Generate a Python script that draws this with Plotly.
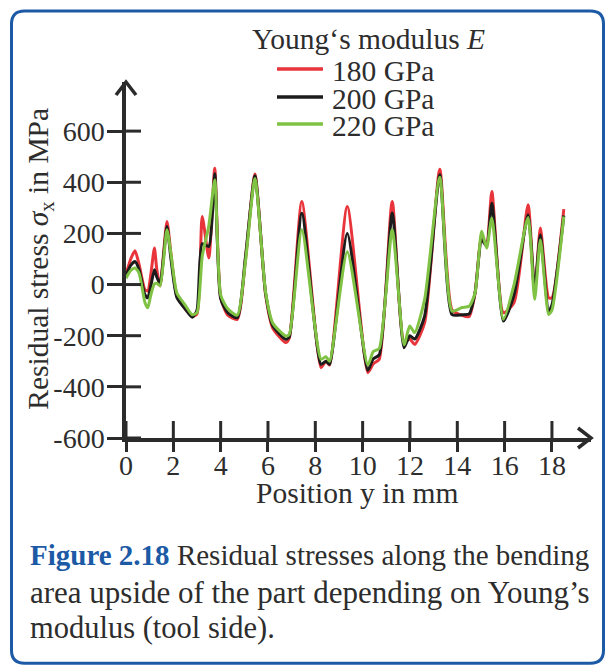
import plotly.graph_objects as go

# ---------------------------------------------------------------------------
# Residual stress along the bending area (upside of the part, tool side)
# ---------------------------------------------------------------------------
position_mm = [0.0, 0.2, 0.38, 0.55, 0.8, 0.92, 1.05, 1.2, 1.3, 1.44,
               1.73, 1.9, 2.15, 2.5, 2.8, 3.0, 3.22, 3.5, 3.75, 4.0,
               4.3, 4.7, 5.05, 5.45, 5.9, 6.2, 6.75, 6.9, 7.43, 8.24,
               8.45, 8.6, 9.35, 10.22, 10.45, 10.7, 11.25, 11.75, 11.99, 12.2,
               12.62, 13.26, 13.78, 14.2, 14.5, 14.75, 15.03, 15.24, 15.46, 15.95,
               16.4, 16.99, 17.27, 17.51, 17.86, 18.0, 18.5]

stress_180 = [40, 100, 132, 80, -20, -25, 40, 143, 60, -6,
              247, 120, -45, -95, -125, -115, 266, 104, 455, -50,
              -120, -136, 100, 432, -40, -170, -227, -210, 325, -325,
              -300, -315, 305, -344, -310, -292, 325, -225, -213, -234,
              -149, 451, -100, -120, -125, -33, 190, 150, 364, -110,
              -70, 312, -30, 221, -52, -52, 295]

stress_200 = [35, 75, 90, 60, -40, -52, -5, 58, 30, 3,
              227, 100, -50, -95, -128, -100, 160, 149, 433, -55,
              -110, -130, 110, 425, -35, -160, -214, -205, 279, -312,
              -300, -312, 200, -335, -290, -275, 280, -247, -200, -213,
              -123, 429, -118, -118, -115, -33, 175, 150, 318, -143,
              -40, 273, -16, 195, -104, -80, 270]

stress_220 = [25, 55, 65, 45, -70, -91, -40, 2, 5, -5,
              214, 120, -33, -80, -118, -110, 110, 230, 409, -40,
              -95, -120, 90, 415, -30, -150, -201, -195, 214, -292,
              -282, -300, 128, -315, -262, -250, 214, -235, -162, -188,
              -58, 420, -104, -90, -85, -33, 208, 143, 260, -136,
              0, 262, -58, 175, -117, -100, 266]

series_labels = ["180 GPa", "200 GPa", "220 GPa"]
series_colors = ["#e8343b", "#1c1c1c", "#80c244"]

x_tick_vals = [0, 2, 4, 6, 8, 10, 12, 14, 16, 18]
y_tick_vals = [-600, -400, -200, 0, 200, 400, 600]
y_tick_text = ["-600", "-400", "-200", "0", "200", "400", "600"]

# ---------------------------------------------------------------------------
W, H = 606, 666
ML, MR, MT, MB = 126, 15, 82, 227.5
PW, PH = W - ML - MR, H - MT - MB
X_MAX, Y_MIN, Y_MAX = 19.65, -600, 792

FONT = "Liberation Serif"
INK = "#2b2b2b"
TEXT = "#2d2d2d"
BLUE = "#1c5aa6"


def fx(px):
    """page pixel x -> paper x"""
    return (px - ML) / PW


def fy(py):
    """page pixel y (from top) -> paper y"""
    return (H - MB - py) / PH


fig = go.Figure()

for ys, name, col in zip([stress_180, stress_200, stress_220], series_labels, series_colors):
    fig.add_trace(go.Scatter(
        x=position_mm, y=ys, name=name, mode="lines",
        line=dict(color=col, width=3, shape="spline", smoothing=0.6),
        showlegend=False, hoverinfo="skip",
    ))

shapes = []
# inner halves of the crossing tick marks
for v in x_tick_vals:
    shapes.append(dict(type="line", xref="x", yref="y", ysizemode="pixel", yanchor=Y_MIN,
                       x0=v, x1=v, y0=0, y1=17, line=dict(color=INK, width=3)))
for v in y_tick_vals:
    shapes.append(dict(type="line", xref="x", yref="y", xsizemode="pixel", xanchor=0,
                       x0=0, x1=15, y0=v, y1=v, line=dict(color=INK, width=3)))
# arrow heads at the axis ends
shapes.append(dict(type="path", xref="paper", yref="paper", xsizemode="pixel", ysizemode="pixel",
                   xanchor=1, yanchor=0, path="M-13,10 L0,0 L-13,-10",
                   line=dict(color=INK, width=3.5)))
shapes.append(dict(type="path", xref="paper", yref="paper", xsizemode="pixel", ysizemode="pixel",
                   xanchor=0, yanchor=1, path="M-10,-13 L0,0 L10,-13",
                   line=dict(color=INK, width=3.5)))

# legend samples
legend_rows_y = [69, 97, 124]
for ly, col in zip(legend_rows_y, series_colors):
    shapes.append(dict(type="line", xref="paper", yref="paper",
                       x0=fx(277), x1=fx(323), y0=fy(ly), y1=fy(ly),
                       line=dict(color=col, width=3.5)))

# rounded frame around figure and caption
l, t, r, b, rad = 11.5, 11, 603.5, 664, 13
frame = (f"M{fx(l)},{fy(t + rad)} Q{fx(l)},{fy(t)} {fx(l + rad)},{fy(t)} "
         f"L{fx(r - rad)},{fy(t)} Q{fx(r)},{fy(t)} {fx(r)},{fy(t + rad)} "
         f"L{fx(r)},{fy(b - rad)} Q{fx(r)},{fy(b)} {fx(r - rad)},{fy(b)} "
         f"L{fx(l + rad)},{fy(b)} Q{fx(l)},{fy(b)} {fx(l)},{fy(b - rad)} Z")
shapes.append(dict(type="path", xref="paper", yref="paper", path=frame,
                   line=dict(color=BLUE, width=3), layer="below"))

annotations = []
annotations.append(dict(text="Young‘s modulus <i>E</i>", xref="paper", yref="paper",
                        x=fx(368), y=fy(39), xanchor="center", yanchor="middle", showarrow=False,
                        font=dict(family=FONT, size=29.5, color=TEXT)))
for ly, name in zip(legend_rows_y, series_labels):
    annotations.append(dict(text=name, xref="paper", yref="paper",
                            x=fx(330), y=fy(ly + 2), xanchor="left", yanchor="middle", showarrow=False,
                            font=dict(family=FONT, size=29.5, color=TEXT)))

annotations.append(dict(text="Position y in mm", xref="paper", yref="paper",
                        x=fx(357), y=fy(494), xanchor="center", yanchor="middle", showarrow=False,
                        font=dict(family=FONT, size=29.5, color=TEXT)))
annotations.append(dict(text="Residual stress <i>σ</i><sub>x</sub> in MPa", xref="paper", yref="paper",
                        x=fx(40), y=fy(259), xanchor="center", yanchor="middle", showarrow=False,
                        textangle=-90, font=dict(family=FONT, size=29.5, color=TEXT)))

caption = [
    (f"<b><span style='color:{BLUE}'>Figure 2.18</span></b> Residual stresses along the bending", 29),
    ("area upside of the part depending on Young’s", 31),
    ("modulus (tool side).", 30.5),
]
for cy, (line, fs) in zip([556, 593, 629], caption):
    annotations.append(dict(text=line, xref="paper", yref="paper",
                            x=fx(28), y=fy(cy), xanchor="left", yanchor="middle", showarrow=False,
                            font=dict(family=FONT, size=fs, color=TEXT)))

fig.update_layout(
    width=W, height=H,
    margin=dict(l=ML, r=MR, t=MT, b=MB, pad=0),
    paper_bgcolor="white", plot_bgcolor="white",
    xaxis=dict(range=[0, X_MAX], showgrid=False, zeroline=False,
               showline=True, linecolor=INK, linewidth=3.5,
               tickvals=x_tick_vals, ticks="outside", ticklen=10, tickwidth=3, tickcolor=INK,
               ticklabelstandoff=-10,
               tickfont=dict(family=FONT, size=28, color=TEXT)),
    yaxis=dict(range=[Y_MIN, Y_MAX], showgrid=False, zeroline=False,
               showline=True, linecolor=INK, linewidth=3.5,
               tickvals=y_tick_vals, ticktext=y_tick_text,
               ticks="outside", ticklen=15, tickwidth=3, tickcolor=INK,
               ticklabelstandoff=-3,
               tickfont=dict(family=FONT, size=28, color=TEXT)),
    shapes=shapes,
    annotations=annotations,
)

fig.write_html("out.html")
